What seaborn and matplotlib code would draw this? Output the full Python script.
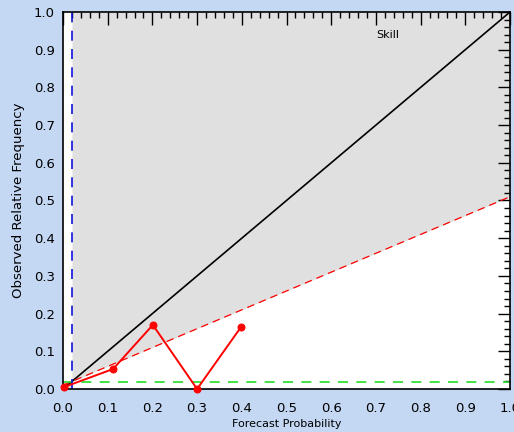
import numpy as np
import pandas as pd
import matplotlib
matplotlib.use("Agg")
import matplotlib.pyplot as plt
from matplotlib.ticker import MultipleLocator
import seaborn as sns

# Data
forecast_prob = [0.002, 0.112, 0.201, 0.300, 0.398]
observed_freq = [0.005, 0.053, 0.170, 0.000, 0.164]
climatology = 0.02
x_ticks = [0.0, 0.1, 0.2, 0.3, 0.4, 0.5, 0.6, 0.7, 0.8, 0.9, 1.0]
y_ticks = [0.0, 0.1, 0.2, 0.3, 0.4, 0.5, 0.6, 0.7, 0.8, 0.9, 1.0]

sns.set_style("white")
plt.rcParams['font.family'] = ['DejaVu Sans']
plt.rcParams['text.color'] = 'black'
plt.rcParams['axes.labelcolor'] = 'black'
plt.rcParams['xtick.color'] = 'black'
plt.rcParams['ytick.color'] = 'black'

bg = "#C4D8F4"
fig = plt.figure(figsize=(5.14, 4.32), dpi=100, facecolor=bg)
ax = fig.add_axes([63/514, 1 - 389/432, (510-63)/514, (389-12)/432])
ax.set_facecolor("white")

# skill region
xs = np.array([climatology, 1.0])
skill = (xs + climatology) / 2
ax.fill_between(xs, skill, 1.0, color="#E0E0E0", lw=0, zorder=0)
xs2 = np.array([0.0, climatology])
ax.fill_between(xs2, 0, (xs2 + climatology) / 2, color="#E0E0E0", lw=0, zorder=0)

# perfect reliability
ref = pd.DataFrame({"x": [0.0, 1.0], "y": [0.0, 1.0]})
sns.lineplot(data=ref, x="x", y="y", color="black", lw=1.2, ax=ax)
# no-skill line
nos = pd.DataFrame({"x": [0.0, 1.0], "y": [climatology / 2, (1 + climatology) / 2]})
sns.lineplot(data=nos, x="x", y="y", color="red", lw=0.9, ls=(0, (6, 4)), ax=ax)
# climatology lines
ax.axhline(climatology * 0.93, color="#22DD22", lw=1.2, ls=(0, (6, 5)))
ax.axvline(climatology, color="#1010DD", lw=1.2, ls=(0, (6, 5)))

df = pd.DataFrame({"p": forecast_prob, "o": observed_freq})
sns.lineplot(data=df, x="p", y="o", color="red", lw=1.4, marker="o",
             markersize=5, markeredgecolor="red", ax=ax, clip_on=False, zorder=5)

ax.text(0.727, 0.94, "Skill", fontsize=8, ha="center", va="center", color="black")

ax.set_xlim(0, 1)
ax.set_ylim(0, 1)
ax.set_xticks(x_ticks)
ax.set_yticks(y_ticks)
ax.set_xticklabels([f"{t:.1f}" for t in x_ticks])
ax.set_yticklabels([f"{t:.1f}" for t in y_ticks])
ax.xaxis.set_minor_locator(MultipleLocator(0.02))
ax.yaxis.set_minor_locator(MultipleLocator(0.02))
ax.tick_params(which="both", direction="in", top=True, right=True, color="black",
               labelsize=9.5, labelcolor="black")
ax.tick_params(axis="x", pad=9)
ax.tick_params(axis="y", pad=6)
ax.tick_params(which="major", length=9, width=1)
ax.tick_params(which="minor", length=4, width=1)
for s in ax.spines.values():
    s.set_color("black")
    s.set_linewidth(1.2)

ax.set_xlabel("Forecast Probability", fontsize=8, labelpad=3)
ax.set_ylabel("Observed Relative Frequency", fontsize=9.5, labelpad=6)

fig.savefig("out.png", dpi=100, facecolor=bg)
